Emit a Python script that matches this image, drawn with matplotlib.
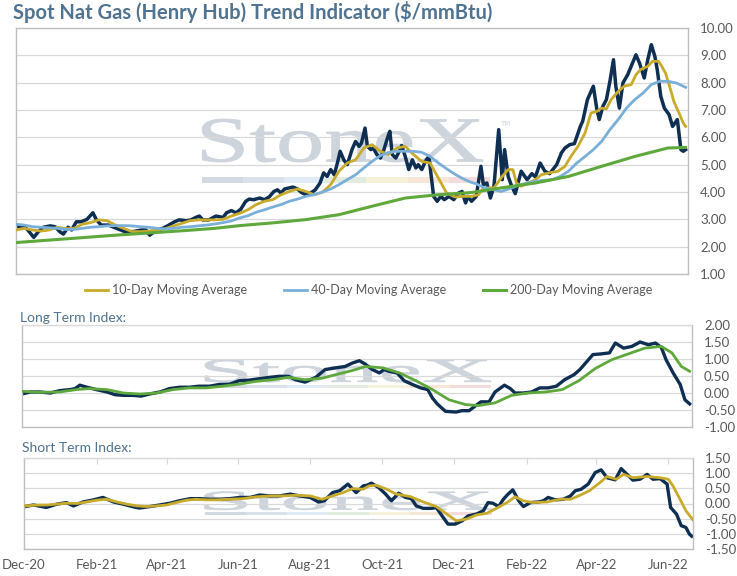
import numpy as np
import matplotlib
matplotlib.use("Agg")
from matplotlib import pyplot as plt
import matplotlib.dates as mdates
from matplotlib.textpath import TextPath
from matplotlib.patches import PathPatch, Rectangle
from matplotlib.font_manager import FontProperties
from matplotlib.transforms import Affine2D

START = np.datetime64("2020-12-01")
END_DAY = 568

# spot price, $/mmBtu (day offset from 1 Dec 2020)
spot_day = [0, 6, 10, 15, 19, 23, 29, 33, 37, 40, 44, 47, 51, 55, 60, 65, 68, 72, 78, 85,
            92, 99, 106, 110, 113, 119, 124, 128, 134, 138, 144, 148, 152, 155, 158, 163, 169,
            175, 178, 182, 186, 190, 194, 197, 201, 206, 210, 214, 218, 221, 224, 227, 231,
            234, 238, 241, 245, 249, 253, 257, 260, 263, 266, 269, 272, 274, 277, 280, 284,
            287, 290, 292, 295, 297, 300, 302, 305, 308, 311, 314, 316, 318, 321, 324, 326,
            329, 332, 335, 338, 340, 343, 346, 349, 351, 353, 356, 359, 362, 366, 370, 374,
            377, 380, 382, 385, 389, 393, 395, 398, 401, 404, 408, 411, 413, 416, 419, 422,
            427, 432, 436, 439, 443, 447, 451, 457, 461, 464, 468, 472, 477, 479, 483, 488,
            491, 493, 496, 499, 502, 505, 507, 510, 513, 517, 520, 524, 527, 531, 534, 537,
            540, 542, 545, 548, 552, 555, 559, 562, 564, 566]
spot_price = [2.73, 2.76, 2.61, 2.34, 2.55, 2.71, 2.76, 2.73, 2.55, 2.46, 2.71, 2.61, 2.91,
              2.91, 3.00, 3.24, 2.98, 2.79, 2.79, 2.67, 2.55, 2.55, 2.61, 2.61, 2.42, 2.61,
              2.67, 2.76, 2.91, 2.98, 2.95, 2.98, 3.07, 3.12, 2.98, 2.98, 3.12, 3.07, 3.24,
              3.32, 3.24, 3.37, 3.65, 3.74, 3.72, 3.78, 3.72, 3.82, 4.02, 4.08, 3.96, 4.11,
              4.15, 4.18, 4.11, 3.99, 3.90, 3.96, 4.08, 4.33, 4.70, 4.57, 4.82, 4.63, 5.12,
              5.49, 5.18, 5.00, 5.55, 5.85, 5.67, 5.79, 6.34, 5.67, 5.55, 5.61, 5.37, 5.24,
              5.55, 5.98, 6.22, 5.37, 5.24, 5.49, 5.70, 5.30, 4.82, 5.18, 4.88, 5.00, 4.82,
              5.12, 5.30, 4.57, 3.84, 3.66, 3.84, 3.72, 3.84, 3.72, 3.96, 4.02, 3.60, 3.84,
              3.66, 3.84, 4.94, 4.27, 4.33, 3.78, 4.21, 6.28, 4.45, 5.55, 4.57, 4.21, 3.94,
              4.76, 4.45, 4.67, 4.55, 5.06, 4.76, 4.67, 5.00, 5.43, 5.61, 5.73, 5.77, 6.40,
              6.59, 7.38, 7.87, 7.01, 6.65, 7.13, 7.38, 8.05, 8.84, 7.87, 7.07, 7.99, 8.29,
              8.60, 9.02, 8.72, 8.17, 8.84, 9.39, 8.96, 8.48, 7.50, 7.07, 6.83, 6.40, 6.65,
              5.55, 5.49, 5.55]

ma10_day = [0, 7, 14, 21, 28, 35, 42, 49, 56, 63, 70, 77, 84, 91, 98, 105, 112, 119, 126,
            133, 140, 147, 154, 161, 168, 175, 182, 189, 196, 203, 210, 217, 224, 231, 238,
            245, 252, 259, 266, 273, 280, 287, 294, 301, 308, 315, 322, 329, 336, 343, 350,
            357, 364, 371, 378, 385, 391, 395, 404, 411, 416, 420, 423, 427, 433, 439, 444,
            453, 458, 464, 469, 475, 481, 486, 491, 495, 499, 503, 509, 514, 520, 524, 528,
            534, 538, 543, 545, 549, 552, 556, 561, 564, 566]
ma10 = [2.61, 2.67, 2.61, 2.57, 2.61, 2.71, 2.66, 2.67, 2.82, 2.88, 2.98, 2.95, 2.79, 2.67,
        2.55, 2.55, 2.57, 2.61, 2.65, 2.76, 2.85, 2.95, 2.98, 2.98, 2.98, 3.00, 3.12, 3.22,
        3.35, 3.54, 3.66, 3.72, 3.90, 4.02, 4.11, 4.02, 3.90, 3.99, 4.27, 4.76, 5.06, 5.18,
        5.61, 5.73, 5.49, 5.37, 5.61, 5.67, 5.37, 5.12, 5.06, 4.51, 3.96, 3.82, 3.84, 3.84,
        3.90, 4.15, 4.15, 4.57, 4.82, 4.82, 4.33, 4.21, 4.33, 4.45, 4.63, 4.72, 4.76, 4.94,
        5.30, 5.67, 6.16, 6.89, 6.95, 7.07, 7.04, 7.38, 7.68, 7.87, 7.93, 8.29, 8.48, 8.60,
        8.78, 8.78, 8.66, 8.35, 7.93, 7.32, 6.83, 6.52, 6.40]

ma40_day = [0, 7, 14, 21, 28, 35, 42, 49, 56, 63, 70, 77, 84, 91, 98, 105, 112, 119, 126,
            133, 140, 147, 154, 161, 168, 175, 182, 189, 196, 203, 210, 217, 224, 231, 238,
            245, 252, 259, 266, 273, 280, 287, 294, 301, 308, 315, 322, 329, 336, 343, 350,
            357, 364, 371, 378, 385, 389, 396, 403, 410, 417, 425, 432, 439, 446, 453, 460,
            467, 474, 481, 488, 495, 502, 509, 516, 523, 530, 537, 544, 551, 558, 566]
ma40 = [2.82, 2.79, 2.73, 2.71, 2.69, 2.67, 2.63, 2.63, 2.67, 2.71, 2.73, 2.76, 2.77, 2.77,
        2.76, 2.73, 2.71, 2.67, 2.65, 2.67, 2.71, 2.73, 2.76, 2.79, 2.83, 2.88, 2.94, 3.05,
        3.13, 3.26, 3.35, 3.45, 3.54, 3.66, 3.74, 3.84, 3.90, 4.00, 4.11, 4.27, 4.45, 4.63,
        4.88, 5.12, 5.33, 5.45, 5.49, 5.49, 5.49, 5.45, 5.30, 5.06, 4.85, 4.65, 4.48, 4.35,
        4.30, 4.15, 4.09, 4.02, 4.12, 4.25, 4.33, 4.39, 4.43, 4.45, 4.57, 4.76, 5.06, 5.30,
        5.55, 5.85, 6.28, 6.65, 7.07, 7.38, 7.62, 7.93, 8.05, 8.05, 7.99, 7.83]

ma200_day = [0, 28, 56, 84, 112, 140, 168, 189, 217, 245, 273, 301, 329, 357, 385, 410, 439,
             467, 495, 523, 551, 566]
ma200 = [2.15, 2.24, 2.33, 2.42, 2.50, 2.58, 2.67, 2.77, 2.87, 2.99, 3.17, 3.48, 3.78, 3.90,
         3.98, 4.15, 4.33, 4.57, 4.94, 5.30, 5.61, 5.63]

long_day = [0, 7, 15, 24, 32, 41, 45, 49, 55, 63, 72, 79, 86, 94, 101, 108, 117, 125, 134,
            142, 150, 159, 167, 176, 184, 193, 201, 210, 218, 226, 232, 240, 249, 257, 266,
            274, 280, 286, 291, 297, 303, 307, 311, 318, 324, 331, 338, 344, 348, 352, 359,
            368, 373, 379, 384, 389, 396, 401, 409, 414, 418, 425, 432, 439, 446, 453, 460,
            468, 473, 479, 484, 491, 498, 503, 510, 517, 524, 531, 537, 542, 546, 552, 558,
            562, 566]
long_idx = [-0.03, 0.03, 0.03, 0.00, 0.07, 0.10, 0.13, 0.23, 0.17, 0.10, 0.03, -0.05, -0.07,
            -0.07, -0.09, -0.03, 0.03, 0.13, 0.17, 0.17, 0.20, 0.20, 0.25, 0.26, 0.36, 0.38,
            0.42, 0.46, 0.49, 0.49, 0.39, 0.32, 0.46, 0.69, 0.74, 0.78, 0.88, 0.95, 0.85,
            0.69, 0.59, 0.69, 0.64, 0.59, 0.36, 0.25, 0.15, 0.10, -0.15, -0.32, -0.54, -0.56,
            -0.52, -0.52, -0.39, -0.26, -0.26, 0.03, 0.23, 0.13, 0.00, 0.00, 0.03, 0.15, 0.15,
            0.20, 0.39, 0.54, 0.69, 0.93, 1.13, 1.15, 1.18, 1.47, 1.32, 1.37, 1.50, 1.42, 1.47,
            1.34, 0.98, 0.59, 0.25, -0.20, -0.32]
long_avg_day = [0, 15, 32, 46, 57, 72, 86, 100, 114, 128, 142, 156, 170, 184, 198, 212, 226,
                240, 255, 266, 280, 291, 306, 320, 334, 348, 362, 376, 387, 401, 415, 429,
                444, 458, 472, 486, 500, 514, 528, 542, 551, 559, 566]
long_avg = [0.05, 0.02, 0.03, 0.10, 0.13, 0.10, 0.00, -0.03, 0.00, 0.10, 0.15, 0.15, 0.20,
            0.26, 0.34, 0.39, 0.46, 0.39, 0.44, 0.54, 0.66, 0.78, 0.74, 0.59, 0.36, 0.10,
            -0.20, -0.34, -0.37, -0.29, -0.07, 0.00, 0.03, 0.10, 0.36, 0.72, 0.98, 1.15, 1.32,
            1.37, 1.18, 0.78, 0.64]

short_day = [1, 8, 15, 19, 28, 36, 42, 50, 59, 67, 76, 84, 93, 98, 107, 115, 124, 132, 141,
             149, 158, 166, 175, 183, 192, 200, 209, 217, 226, 234, 243, 250, 255, 262, 268,
             275, 282, 288, 291, 295, 301, 307, 312, 318, 324, 329, 333, 339, 346, 350, 355,
             360, 366, 372, 377, 384, 390, 394, 398, 403, 407, 411, 415, 420, 424, 430, 437,
             441, 445, 451, 458, 464, 468, 473, 479, 485, 490, 495, 502, 507, 512, 517, 523,
             529, 534, 540, 546, 549, 554, 558, 562, 565, 567]
short_idx = [-0.10, -0.05, -0.10, -0.13, -0.02, 0.03, -0.08, 0.05, 0.12, 0.20, 0.05, -0.02,
             -0.11, -0.15, -0.10, -0.05, 0.01, 0.09, 0.16, 0.16, 0.14, 0.14, 0.16, 0.20, 0.20,
             0.28, 0.25, 0.25, 0.31, 0.25, 0.20, 0.05, 0.09, 0.36, 0.42, 0.64, 0.36, 0.58,
             0.60, 0.67, 0.53, 0.31, 0.09, 0.34, 0.20, 0.16, -0.08, -0.16, -0.16, -0.13, -0.41,
             -0.68, -0.68, -0.57, -0.41, -0.35, -0.24, 0.03, 0.01, -0.10, 0.14, 0.31, 0.45,
             0.09, -0.10, 0.03, 0.05, 0.09, 0.20, 0.12, 0.14, 0.25, 0.42, 0.47, 0.64, 1.02,
             1.11, 0.85, 0.78, 1.15, 0.96, 0.77, 0.80, 0.96, 0.80, 0.82, 0.64, -0.13, -0.35,
             -0.73, -0.79, -1.01, -1.08]
short_avg_day = [1, 11, 19, 28, 36, 45, 53, 62, 70, 79, 87, 96, 104, 112, 121, 129, 138, 146,
                 155, 163, 175, 186, 197, 209, 220, 231, 243, 253, 262, 271, 279, 288, 293,
                 299, 308, 316, 328, 339, 350, 359, 367, 376, 384, 393, 401, 410, 417, 424,
                 432, 444, 455, 464, 472, 480, 489, 495, 503, 509, 517, 529, 540, 547, 551,
                 557, 562, 568]
short_avg = [-0.08, -0.05, -0.05, -0.02, 0.01, 0.00, 0.05, 0.11, 0.14, 0.05, -0.02, -0.08,
             -0.10, -0.08, -0.05, 0.03, 0.11, 0.14, 0.12, 0.12, 0.14, 0.16, 0.22, 0.25, 0.25,
             0.27, 0.25, 0.14, 0.25, 0.36, 0.49, 0.47, 0.58, 0.60, 0.47, 0.31, 0.23, 0.05,
             -0.10, -0.35, -0.57, -0.51, -0.38, -0.32, -0.16, 0.03, 0.22, 0.09, 0.03, 0.05,
             0.14, 0.14, 0.27, 0.42, 0.69, 0.89, 0.80, 0.96, 0.85, 0.89, 0.85, 0.80, 0.58, 0.14,
             -0.24, -0.54]

NAVY = "#0e2f52"
GOLD = "#c8ab2c"
BLUE = "#7aafd9"
GREEN = "#5ea83c"
SLATE = "#4f7390"
FRAME = "#bfbfbf"
GRID = "#d9d9d9"
TICK = "#595959"
FONT = "Lato"


def to_dates(days):
    return START + np.array(days).astype("timedelta64[D]")


def watermark(ax, x0, x1, y0, y1, by, bh, bx1):
    tp = TextPath((0, 0), "StoneX", size=1,
                  prop=FontProperties(family="Liberation Serif"))
    bb = tp.get_extents()
    tr = (Affine2D().translate(-bb.x0, -bb.y0)
          .scale((x1 - x0) / bb.width, (y1 - y0) / bb.height)
          .translate(x0, y0) + ax.transAxes)
    ax.add_patch(PathPatch(tp, transform=tr, fc="#cdd4dc", ec="#cdd4dc", lw=0.6,
                           zorder=0.5))
    band = ["#d3d9e0", "#dae1e8", "#e1ebf3", "#e2ebdf", "#f5f1da", "#f6e6d6", "#f3dbdb"]
    w = (bx1 - x0) / len(band)
    for i, c in enumerate(band):
        ax.add_patch(Rectangle((x0 + i * w, by), w, bh, transform=ax.transAxes,
                               fc=c, ec="none", zorder=0.5))


def style_axis(ax, lo, hi, step, dotted_top=False):
    ax.set_ylim(lo, hi)
    ax.set_yticks(np.arange(lo, hi + step / 2, step))
    ax.yaxis.set_major_formatter(matplotlib.ticker.FormatStrFormatter("%.2f"))
    ax.yaxis.tick_right()
    ax.tick_params(axis="y", length=0, pad=8.6, labelsize=9.5, labelcolor=TICK)
    for lab in ax.get_yticklabels():
        lab.set_family(FONT)
    ax.grid(axis="y", color=GRID, lw=0.9)
    ax.set_axisbelow(True)
    for s in ax.spines.values():
        s.set_color(FRAME)
        s.set_linewidth(1.0)
    if dotted_top:
        ax.spines["top"].set_linestyle(":")
        ax.spines["top"].set_color(GRID)
    ax.set_xlim(START, START + np.timedelta64(END_DAY, "D"))


fig = plt.figure(figsize=(7.37, 5.76), dpi=100)

# main panel
ax1 = fig.add_axes([16 / 737, 302 / 576, 672 / 737, 246 / 576])
style_axis(ax1, 1, 10, 1)
ax1.tick_params(axis="x", bottom=False, labelbottom=False)
watermark(ax1, 0.277, 0.695, 0.455, 0.63, 0.37, 0.024, 0.705)
ax1.text(0.72, 0.60, "TM", transform=ax1.transAxes, fontsize=5, color="#cfd6de",
         family="DejaVu Sans", zorder=0.5)
ax1.plot(to_dates(spot_day), spot_price, color=NAVY, lw=2.5, zorder=2)
l10, = ax1.plot(to_dates(ma10_day), ma10, color=GOLD, lw=2.0, zorder=3)
l40, = ax1.plot(to_dates(ma40_day), ma40, color=BLUE, lw=2.0, zorder=4)
l200, = ax1.plot(to_dates(ma200_day), ma200, color=GREEN, lw=2.2, zorder=5)

fig.legend([l10, l40, l200],
           ["10-Day Moving Average", "40-Day Moving Average", "200-Day Moving Average"],
           loc="center", bbox_to_anchor=(0.5, 1 - 290 / 576), ncol=3, frameon=False,
           handlelength=1.9, handletextpad=0.3, columnspacing=2.9,
           prop={"family": FONT, "size": 9})
for t in fig.legends[0].get_texts():
    t.set_color(TICK)

fig.text(13 / 737, 1 - 12 / 576, "Spot Nat Gas (Henry Hub) Trend Indicator ($/mmBtu)",
         ha="left", va="center", fontsize=14.5, weight="bold", color=SLATE, family=FONT)

# long term index
fig.text(20 / 737, 1 - 318 / 576, "Long Term Index:", ha="left", va="center",
         fontsize=10, color=SLATE, family=FONT)
ax2 = fig.add_axes([22 / 737, 149 / 576, 670 / 737, 102 / 576])
style_axis(ax2, -1, 2, 0.5, dotted_top=True)
ax2.tick_params(axis="x", bottom=False, labelbottom=False)
watermark(ax2, 0.273, 0.70, 0.44, 0.66, 0.38, 0.03, 0.70)
ax2.plot(to_dates(long_day), long_idx, color=NAVY, lw=2.4, zorder=2)
ax2.plot(to_dates(long_avg_day), long_avg, color=GREEN, lw=2.0, zorder=3)

# short term index
fig.text(22 / 737, 1 - 448 / 576, "Short Term Index:", ha="left", va="center",
         fontsize=10, color=SLATE, family=FONT)
ax3 = fig.add_axes([24 / 737, 27 / 576, 669 / 737, 91 / 576])
style_axis(ax3, -1.5, 1.5, 0.5)
ax3.spines["top"].set_color(GRID)
watermark(ax3, 0.27, 0.70, 0.43, 0.63, 0.37, 0.033, 0.70)
ax3.plot(to_dates(short_day), short_idx, color=NAVY, lw=2.4, zorder=2)
ax3.plot(to_dates(short_avg_day), short_avg, color=GOLD, lw=2.0, zorder=3)
ax3.xaxis.set_major_locator(mdates.MonthLocator(bymonth=[2, 4, 6, 8, 10, 12]))
ax3.xaxis.set_major_formatter(mdates.DateFormatter("%b-%y"))
ax3.tick_params(axis="x", bottom=False, top=True, direction="in", length=4,
                color=GRID, labelsize=9.5, labelcolor=TICK, pad=7)
for lab in ax3.get_xticklabels():
    lab.set_family(FONT)

fig.savefig("out.png", dpi=100)
